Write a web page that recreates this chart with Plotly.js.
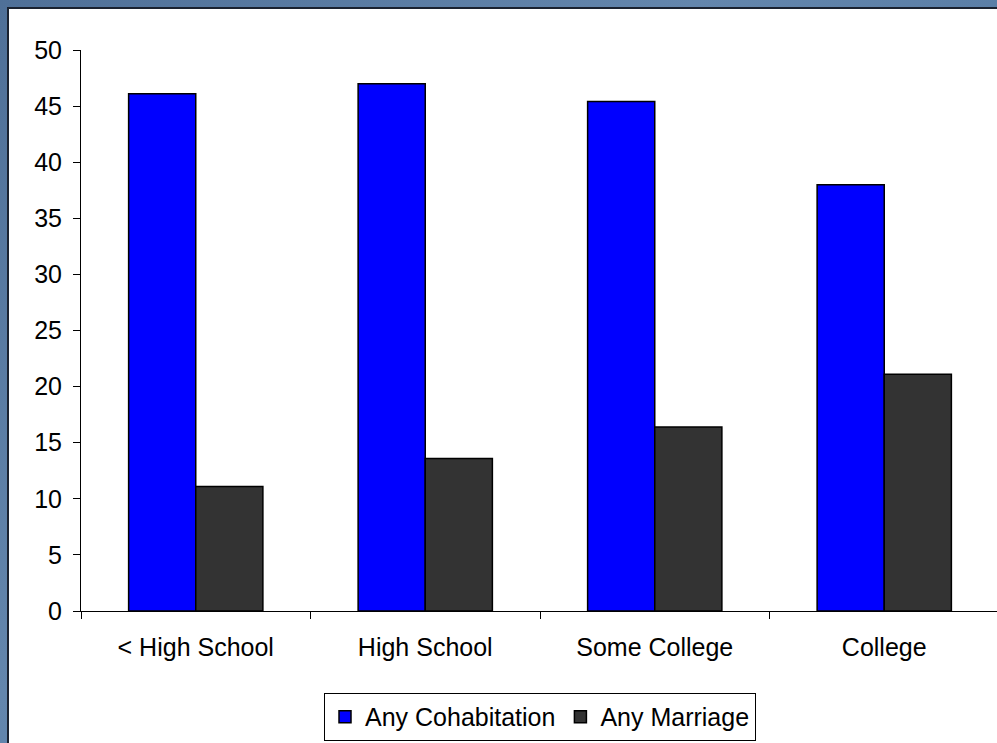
<!DOCTYPE html>
<html>
<head>
<meta charset="utf-8">
<script src="https://cdn.plot.ly/plotly-3.0.1.min.js"></script>
<style>
  html, body { margin:0; padding:0; width:997px; height:743px; overflow:hidden;
    background: linear-gradient(135deg, #4f7098 0%, #6386ad 40%, #557aa3 70%, #4a6c94 100%); }
  #frame { position:absolute; left:7px; top:7px; width:990px; height:736px;
    border-left:2px solid #1a2230; border-top:2px solid #1a2230; background:#fff; }
  #chart { position:absolute; left:0; top:0; width:990px; height:736px; }
</style>
</head>
<body>
<div id="frame"><div id="chart"></div></div>
<script>
const categories = ["< High School", "High School", "Some College", "College"];
const cohabitation = [46.1, 47.0, 45.4, 38.0];
const marriage = [11.1, 13.6, 16.4, 21.1];
const yTicks = [0, 5, 10, 15, 20, 25, 30, 35, 40, 45, 50];

const font = { family: "Liberation Sans, Arial, sans-serif", size: 25, color: "#000" };

const data = [
  { type: "bar", name: "Any Cohabitation", x: categories, y: cohabitation,
    marker: { color: "#0000ff", line: { color: "#000", width: 1.5 } }, hoverinfo: "skip" },
  { type: "bar", name: "Any Marriage", x: categories, y: marriage,
    marker: { color: "#333333", line: { color: "#000", width: 1.5 } }, hoverinfo: "skip" }
];

const layout = {
  width: 990, height: 736,
  margin: { l: 72, r: 0, t: 41, b: 134 },
  paper_bgcolor: "#ffffff", plot_bgcolor: "#ffffff",
  font: font,
  barmode: "group", bargap: 0.415, bargroupgap: 0,
  showlegend: true,
  legend: { orientation: "h", x: 0.5, xanchor: "center", xref: "paper",
    yref: "container", y: 0.0707, yanchor: "top",
    bordercolor: "#000", borderwidth: 1, font: font, traceorder: "normal",
    itemwidth: 30, tracegroupgap: 0 },
  xaxis: { type: "category", showline: true, linecolor: "#000", linewidth: 1,
    ticks: "outside", tickson: "boundaries", ticklen: 7, tickcolor: "#000",
    showgrid: false, zeroline: false, tickfont: font, ticklabelstandoff: 14 },
  yaxis: { range: [0, 50], tickvals: yTicks, showline: true, linecolor: "#000", linewidth: 1,
    ticks: "outside", ticklen: 7, tickcolor: "#000", showgrid: false, zeroline: false,
    tickfont: font, ticklabelstandoff: 6 }
};

Plotly.newPlot("chart", data, layout, { staticPlot: true, displayModeBar: false });
</script>
</body>
</html>
